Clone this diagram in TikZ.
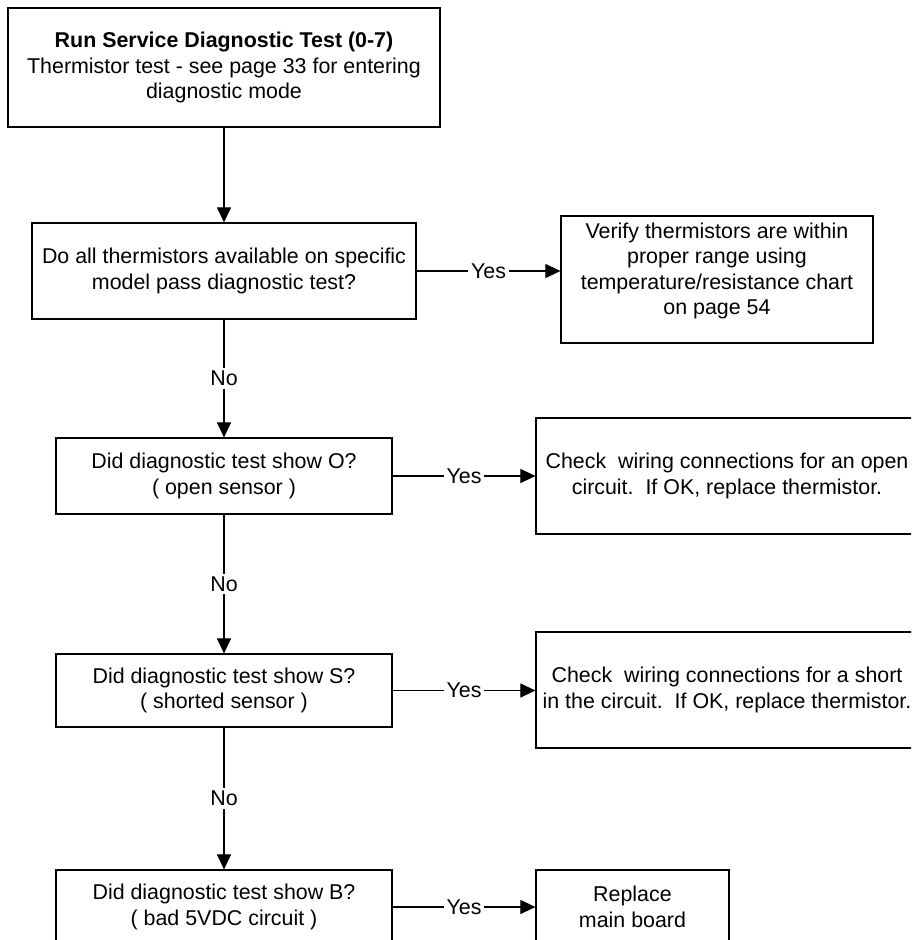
\documentclass[tikz,border=0pt]{standalone}
\usepackage{fontspec}
\setmainfont{Liberation Sans}
\usetikzlibrary{arrows.meta}
\tikzset{
  txtfont/.style={font=\fontsize{21.4}{25.5}\selectfont},
  box/.style={draw=black, line width=1.2pt, rectangle, inner sep=0pt, align=center, txtfont},
  txt/.style={inner sep=0pt, align=center, txtfont},
  conn/.style={line width=1.1pt, draw=black, -{Triangle[length=15pt,width=14pt]}},
  lbl/.style={fill=white, inner sep=3pt, txtfont},
}
\begin{document}
\begin{tikzpicture}[x=1pt,y=-1pt]
\useasboundingbox (0,0) rectangle (911,940);
\clip (0,0) rectangle (911,940);
\fill[white] (0,0) rectangle (911,940);

% left column
\node[box, minimum width=432pt, minimum height=119pt] (b1) at (224,67.5)
  {{\bfseries Run Service Diagnostic Test (0-7)}\\Thermistor test - see page 33 for entering\\diagnostic mode};
\node[box, minimum width=384pt, minimum height=96pt] (b2) at (224,271)
  {Do all thermistors available on specific\\model pass diagnostic test?};
\node[box, minimum width=336pt, minimum height=76pt] (b3) at (224,476)
  {Did diagnostic test show O?\\( open sensor )};
\node[box, minimum width=336pt, minimum height=73pt] (b4) at (224,690.5)
  {Did diagnostic test show S?\\( shorted sensor )};
\node[box, minimum width=336pt, minimum height=74pt] (b5) at (224,907)
  {Did diagnostic test show B?\\( bad 5VDC circuit )};

% right column
\node[box, minimum width=312pt, minimum height=127pt] (v) at (717,279.5) {};
\node[txt] (vt) at (717,271)
  {Verify thermistors are within\\proper range using\\temperature/resistance chart\\on page 54};
\node[box, minimum width=382pt, minimum height=116pt] (c1) at (727,476)
  {Check\ \ wiring connections for an open\\circuit.\ \ If OK, replace thermistor.};
\node[box, minimum width=382pt, minimum height=116pt] (c2) at (727,690)
  {Check\ \ wiring connections for a short\\in the circuit.\ \ If OK, replace thermistor.};
\node[box, minimum width=193pt, minimum height=74pt] (r) at (632.5,907)
  {Replace\\main board};

% connectors
\draw[conn] (b1) -- (b2);
\draw[conn] (b2) -- node[lbl]{No} (b3);
\draw[conn] (b3) -- node[lbl]{No} (b4);
\draw[conn] (b4) -- node[lbl]{No} (b5);

\draw[conn] (b2.east) -- node[lbl]{Yes} (b2.east -| v.west);
\draw[conn] (b3.east) -- node[lbl]{Yes} (b3.east -| c1.west);
\draw[conn] (b4.east) -- node[lbl]{Yes} (b4.east -| c2.west);
\draw[conn] (b5.east) -- node[lbl]{Yes} (b5.east -| r.west);
\end{tikzpicture}
\end{document}
